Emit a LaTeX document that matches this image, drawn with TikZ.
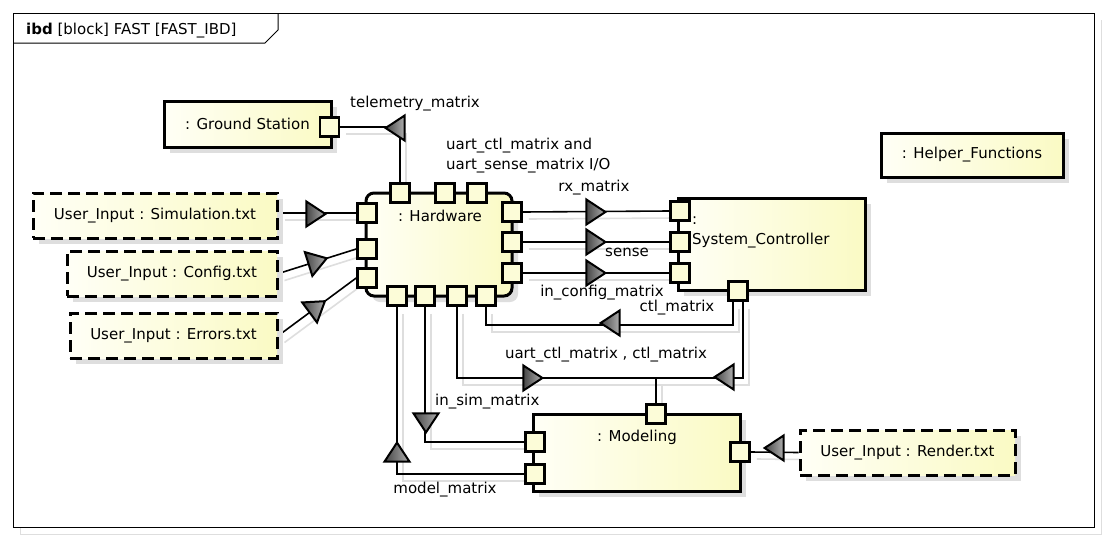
\documentclass[tikz,border=0pt]{standalone}
\usepackage{fontspec}
\setmainfont{DejaVu Sans}
\usetikzlibrary{shapes.geometric,shadows,calc}
\pgfdeclarelayer{bg}
\pgfsetlayers{bg,main}
\definecolor{yl}{RGB}{250,250,196}
\definecolor{ylt}{RGB}{255,255,246}
\definecolor{shd}{RGB}{222,222,222}
\definecolor{trdark}{RGB}{70,70,70}
\definecolor{trlight}{RGB}{175,175,175}
\begin{document}
\begin{tikzpicture}[x=1pt,y=-1pt,
  font=\fontsize{15}{20}\selectfont,
  blk/.style={draw, line width=3pt, left color=ylt, right color=yl, inner sep=0,
    drop shadow={shadow xshift=6pt, shadow yshift=-6pt, fill=shd, opacity=1}},
  dblk/.style={blk, dash pattern=on 12pt off 6pt},
  port/.style={draw, line width=2.6pt, fill=ylt!40!yl, minimum size=19pt, inner sep=0},
  conn/.style={line width=1.6pt, preaction={draw=shd, line width=1.6pt, transform canvas={shift={(6pt,-7pt)}}}},
  tri/.style={isosceles triangle, isosceles triangle stretches, shape border rotate=0,
    minimum width=25pt, minimum height=19pt, inner sep=0, draw, line width=2pt,
    left color=trdark, right color=trlight, line join=miter},
  lbl/.style={inner sep=0}]
\useasboundingbox (0,0) rectangle (1108,541);

% boxes
\node[blk, minimum width=167pt, minimum height=46pt] (gs) at (247.5,124) {: Ground Station};
\node[blk, rounded corners=8pt, minimum width=146pt, minimum height=103pt] (hw) at (439,244.5) {};
\node[lbl] (hwtext) at (440,216) {: Hardware};
\node[blk, minimum width=187pt, minimum height=92pt] (sc) at (771.5,244) {};
\node[lbl, anchor=west, align=left] (sctext) at (692,232) {:\\System\_Controller};
\node[blk, minimum width=207pt, minimum height=77pt] (md) at (636.5,452.5) {};
\node[lbl] (mdtext) at (637,437) {: Modeling};
\node[dblk, minimum width=215pt, minimum height=45pt] (rnd) at (907.5,452.5) {User\_Input : Render.txt};
\node[blk, minimum width=182pt, minimum height=44pt] (hf) at (972,155) {: Helper\_Functions};
\node[dblk, minimum width=244pt, minimum height=45pt] (sim) at (155,215.5) {User\_Input : Simulation.txt};
\node[dblk, minimum width=210pt, minimum height=45pt] (cfg) at (172,273.5) {User\_Input : Config.txt};
\node[dblk, minimum width=207pt, minimum height=45pt] (err) at (173.5,335.5) {User\_Input : Errors.txt};

% ports
\node[port] (gsp) at (329.5,127) {};
\node[port] (hwl1) at (367,213) {};
\node[port] (hwl2) at (367,249) {};
\node[port] (hwl3) at (367,278) {};
\node[port] (hwr1) at (512,212) {};
\node[port] (hwr2) at (512,242) {};
\node[port] (hwr3) at (512,273) {};
\node[port] (hwt1) at (400,193) {};
\node[port] (hwt2) at (445,193) {};
\node[port] (hwt3) at (477,193) {};
\node[port] (hwb1) at (397,296) {};
\node[port] (hwb2) at (425,296) {};
\node[port] (hwb3) at (457,296) {};
\node[port] (hwb4) at (486,296) {};
\node[port] (scl1) at (680,211) {};
\node[port] (scl2) at (680,242) {};
\node[port] (scl3) at (680,273) {};
\node[port] (scb) at (738,291) {};
\node[port] (mdt) at (656,414) {};
\node[port] (mdl1) at (535,442) {};
\node[port] (mdl2) at (535,474) {};
\node[port] (mdr) at (740,452) {};

\coordinate (j) at (656,378);

\begin{pgfonlayer}{bg}
  % frame
  \draw[shd, line width=1pt] (20,20) -- (271,20);
  \draw[shd, line width=1pt] (20,20) -- (20,534) -- (1101,534) -- (1101,20);
  \draw[line width=1pt, fill=white] (13,13) rectangle (1094,527);
  \draw[line width=1pt] (13,43) -- (265,43) -- (278,30) -- (278,13);
  % connectors
  \draw[conn] (hwt1.north) |- (gsp.east);
  \draw[conn] (sim.east |- hwl1) -- (hwl1.west);
  \draw[conn] (cfg.east) -- node[tri, sloped, pos=0.47] (tcfg) {} (hwl2.west);
  \draw[conn] (err.east) -- node[tri, sloped, pos=0.47] (terr) {} (hwl3.west);
  \draw[conn] (hwr1.east) -- (scl1.west);
  \draw[conn] (hwr2.east) -- (scl2.west);
  \draw[conn] (hwr3.east) -- (scl3.west);
  \draw[conn] ([xshift=-5pt]scb.south) |- ([yshift=-18pt]hwb4.south) -- (hwb4.south);
  \draw[conn] (hwb3.south) |- (j) -- (mdt.north);
  \draw[conn] ([xshift=5pt]scb.south) |- (j);
  \draw[conn] (hwb2.south) |- (mdl1.west);
  \draw[conn] (mdl2.west) -| (hwb1.south);
  \draw[conn] (rnd.west) -- (mdr.east);
\end{pgfonlayer}

% arrow triangles
\node[tri, rotate=180, anchor=apex] (ttel) at (383,128) {};
\node[tri, anchor=apex] (tsim) at (328,214) {};
\node[tri, anchor=apex] (trx) at (608,212) {};
\node[tri, anchor=apex] (tse) at (608,242) {};
\node[tri, anchor=apex] (tic) at (608,273) {};
\node[tri, rotate=180, anchor=apex] (tctl) at (598,323) {};
\node[tri, anchor=apex] (tu) at (545,378) {};
\node[tri, rotate=180, anchor=apex] (tc2) at (712,377) {};
\node[tri, rotate=-90, anchor=apex] (tis) at (426,435) {};
\node[tri, rotate=90, anchor=apex] (tmm) at (397,440) {};
\node[tri, rotate=180, anchor=apex] (tr) at (762,448) {};

% labels
\node[lbl, anchor=west] (title) at (26,31) {\textbf{ibd} [block] FAST [FAST\_IBD]};
\node[lbl] (ltel) at (415,104) {telemetry\_matrix};
\node[lbl, anchor=west, align=left] (luart) at (446,156) {uart\_ctl\_matrix and\\uart\_sense\_matrix I/O};
\node[lbl] (lrx) at (594,188) {rx\_matrix};
\node[lbl] (lse) at (627,252) {sense};
\node[lbl] (lic) at (602,293) {in\_config\_matrix};
\node[lbl] (lctl) at (677,308) {ctl\_matrix};
\node[lbl] (lu) at (606,355) {uart\_ctl\_matrix , ctl\_matrix};
\node[lbl, anchor=west] (lis) at (435,402) {in\_sim\_matrix};
\node[lbl] (lmm) at (445,490) {model\_matrix};
\end{tikzpicture}
\end{document}
